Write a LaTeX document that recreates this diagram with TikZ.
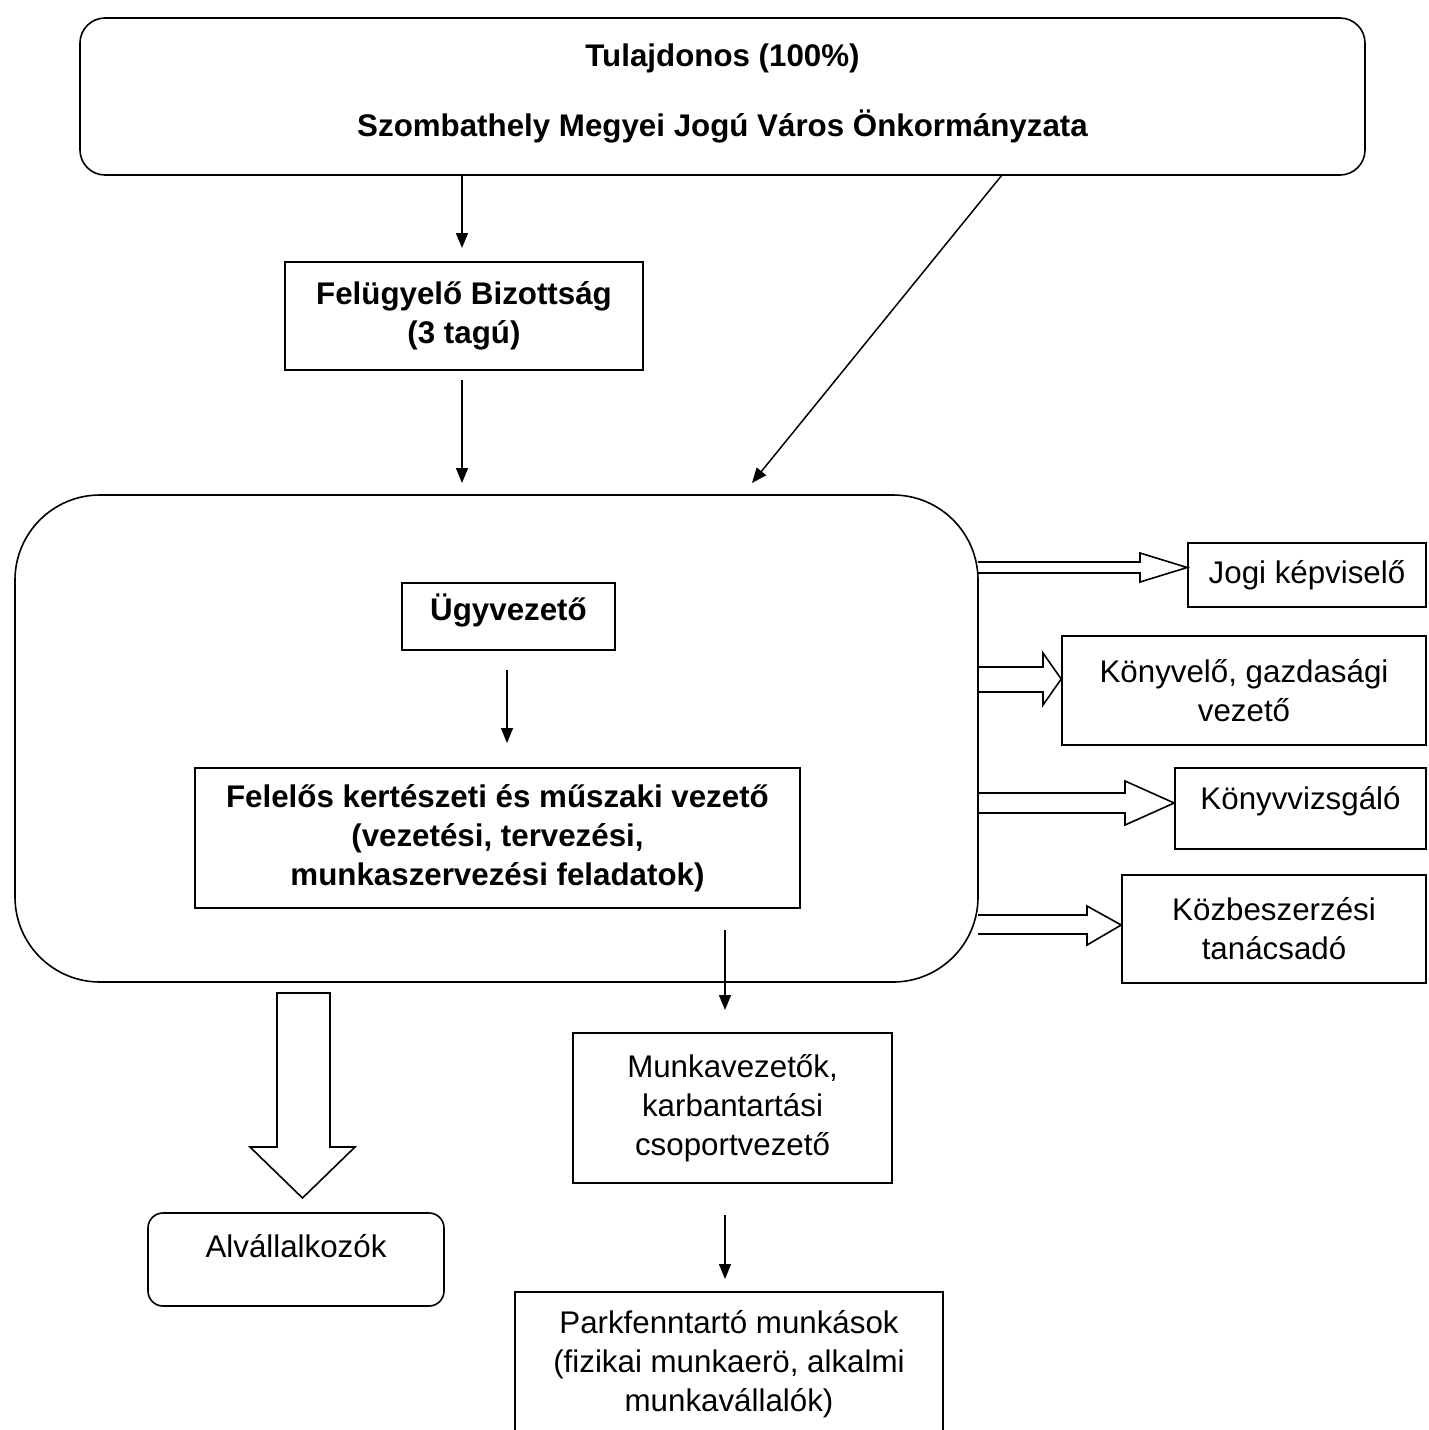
\documentclass[tikz,border=0pt]{standalone}
\usepackage{fontspec}
\setmainfont{Liberation Sans}
\usetikzlibrary{arrows.meta}
\tikzset{
  box/.style={draw, line width=1.6pt, inner sep=0pt, align=center,
    font=\fontsize{31.3}{39}\selectfont},
  bbox/.style={box, font=\fontsize{31.3}{39}\selectfont\bfseries},
  conn/.style={line width=1.5pt, -{Triangle[length=15pt,width=12pt]}},
  hollow/.style={line width=1.6pt, line join=miter}
}
\begin{document}
\begin{tikzpicture}[x=1pt,y=-1pt]
\useasboundingbox[fill=white] (0,0) rectangle (1428,1430);
% top box
\node[bbox, rounded corners=25pt, minimum width=1285pt, minimum height=157pt, text depth=12pt] (top) at (722.5,96.5)
  {Tulajdonos (100\%)\\[31pt]Szombathely Megyei Jogú Város Önkormányzata};
\node[bbox, minimum width=358pt, minimum height=108pt] (feb) at (464,316)
  {Felügyelő Bizottság\\(3 tagú)};
% big rounded container
\node[draw, line width=1.6pt, rounded corners=85pt, minimum width=963pt, minimum height=487pt, inner sep=0pt] (big) at (496.5,738.5) {};
\node[bbox, minimum width=213pt, minimum height=67pt, text depth=18pt] (ugy) at (508.5,616.5) {Ügyvezető};
\node[bbox, minimum width=605pt, minimum height=140pt] (fel) at (497.5,838)
  {Felelős kertészeti és műszaki vezető\\(vezetési, tervezési,\\munkaszervezési feladatok)};
\node[box, minimum width=319pt, minimum height=150pt] (munk) at (732.5,1108)
  {Munkavezetők,\\karbantartási\\csoportvezető};
\node[box, minimum width=428pt, minimum height=148pt, text depth=10pt] (park) at (729,1366)
  {Parkfenntartó munkások\\(fizikai munkaerö, alkalmi\\munkavállalók)};
\node[box, rounded corners=15pt, minimum width=296pt, minimum height=93pt, text depth=28pt] (alv) at (296,1259.5) {Alvállalkozók};
% right boxes
\node[box, minimum width=238pt, minimum height=64pt] (jogi) at (1307,575) {Jogi képviselő};
\node[box, minimum width=364pt, minimum height=109pt] (konyv) at (1244,690.5) {Könyvelő, gazdasági\\vezető};
\node[box, minimum width=251pt, minimum height=81pt, text depth=22pt] (kvizs) at (1300.5,808.5) {Könyvvizsgáló};
\node[box, minimum width=304pt, minimum height=108pt] (kozb) at (1274,929) {Közbeszerzési\\tanácsadó};
% thin arrows
\coordinate (t1) at (462,248);
\coordinate (s2) at (462,380);
\coordinate (t2) at (462,483);
\coordinate (s3) at (1002,175);
\coordinate (t3) at (752,483);
\coordinate (s4) at (507,670);
\coordinate (t4) at (507,743);
\coordinate (s5) at (725,930);
\coordinate (t5) at (725,1010);
\coordinate (s6) at (725,1215);
\coordinate (t6) at (725,1279);
\draw[conn] (top.south -| t1) -- (t1);
\draw[conn] (s2) -- (t2);
\draw[conn] (s3) -- (t3);
\draw[conn] (s4) -- (t4);
\draw[conn] (s5) -- (t5);
\draw[conn] (s6) -- (t6);
% hollow arrows to the right
\draw[hollow] (978,562) -- (1140,562) -- (1140,553) -- (jogi.west |- 0,567.5) -- (1140,582) -- (1140,573) -- (978,573);
\draw[hollow] (978,667) -- (1043,667) -- (1043,653) -- (konyv.west |- 0,679) -- (1043,705) -- (1043,692) -- (978,692);
\draw[hollow] (978,793) -- (1125,793) -- (1125,781) -- (kvizs.west |- 0,803) -- (1125,825) -- (1125,813) -- (978,813);
\draw[hollow] (978,915) -- (1087,915) -- (1087,906) -- (kozb.west |- 0,925) -- (1087,945) -- (1087,934) -- (978,934);
% big hollow down arrow
\draw[hollow] (277,993) -- (330,993) -- (330,1147) -- (355,1147) -- (302.5,1198) -- (250,1147) -- (277,1147) -- cycle;
\end{tikzpicture}
\end{document}
